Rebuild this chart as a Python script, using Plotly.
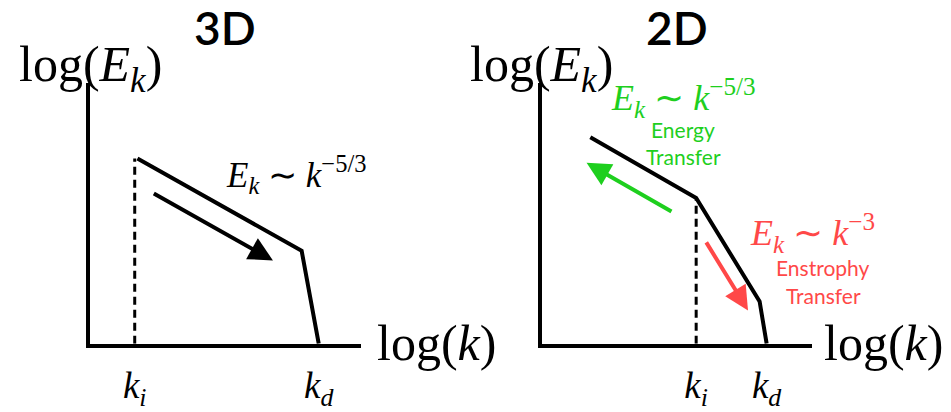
import plotly.graph_objects as go

# Schematic energy spectra, in arbitrary log(k) / log(E_k) units (0..10 on each axis)
panel_titles = ["3D", "2D"]

# 3D cascade: injection at k_i, inertial range, dissipation at k_d
k3_ticks = [1.65, 8.44]
k3_line_x = [1.75, 7.81, 8.44]
k3_line_y = [7.12, 3.57, 0.0]
k3_arrow = dict(tail=(2.3, 5.8), tip=(6.75, 3.2))

# 2D dual cascade: inverse energy cascade + forward enstrophy cascade
k2_ticks = [5.71, 8.32]
k2_line_x = [1.79, 5.71, 8.06, 8.32]
k2_line_y = [7.93, 5.60, 1.62, 0.0]
k2_energy_arrow = dict(tail=(4.85, 5.05), tip=(1.65, 6.95))
k2_enstrophy_arrow = dict(tail=(6.05, 3.95), tip=(7.63, 1.28))

tick_text = ["<i>k</i><sub><i>i</i></sub>", "<i>k</i><sub><i>d</i></sub>"]

GREEN = "#1ecf1e"
RED = "#ff4848"
SERIF = "Liberation Serif"
SANS = "Lato"

W, H = 951, 412


def px_x(p):
    return p / W


def px_y(p):
    return 1 - p / H


fig = go.Figure()

# left panel axes (x, y) and right panel axes (x2, y2)
axis_common = dict(range=[0, 10], showgrid=False, zeroline=False,
                   showline=True, linecolor="black", linewidth=4, mirror=False)
tick_font = dict(family=SERIF, size=37, color="black")
fig.update_layout(
    width=W, height=H, margin=dict(l=0, r=0, t=0, b=0),
    paper_bgcolor="white", plot_bgcolor="white", showlegend=False,
    xaxis=dict(domain=[px_x(90), px_x(361)], anchor="y", tickvals=k3_ticks,
               ticktext=tick_text, ticks="outside", ticklen=6,
               tickcolor="rgba(0,0,0,0)", tickfont=tick_font, **axis_common),
    yaxis=dict(domain=[px_y(354), px_y(86)], anchor="x", showticklabels=False,
               ticks="", **axis_common),
    xaxis2=dict(domain=[px_x(542), px_x(812)], anchor="y2", tickvals=k2_ticks,
                ticktext=tick_text, ticks="outside", ticklen=6,
                tickcolor="rgba(0,0,0,0)", tickfont=tick_font, **axis_common),
    yaxis2=dict(domain=[px_y(354), px_y(86)], anchor="x2", showticklabels=False,
                ticks="", **axis_common),
)

# spectra
fig.add_trace(go.Scatter(x=k3_line_x, y=k3_line_y, mode="lines",
                         line=dict(color="black", width=4), xaxis="x", yaxis="y"))
fig.add_trace(go.Scatter(x=k2_line_x, y=k2_line_y, mode="lines",
                         line=dict(color="black", width=4), xaxis="x2", yaxis="y2"))

# dashed injection-scale markers
fig.add_trace(go.Scatter(x=[k3_ticks[0], k3_ticks[0]], y=[0, k3_line_y[0]], mode="lines",
                         line=dict(color="black", width=3, dash="8px,5px"),
                         xaxis="x", yaxis="y"))
fig.add_trace(go.Scatter(x=[k2_ticks[0], k2_ticks[0]], y=[0, k2_line_y[1]], mode="lines",
                         line=dict(color="black", width=3, dash="8px,5px"),
                         xaxis="x2", yaxis="y2"))


def add_arrow(spec, color, xref, yref):
    fig.add_annotation(x=spec["tip"][0], y=spec["tip"][1],
                       ax=spec["tail"][0], ay=spec["tail"][1],
                       xref=xref, yref=yref, axref=xref, ayref=yref,
                       showarrow=True, arrowhead=2, arrowsize=1.2,
                       arrowwidth=4, arrowcolor=color, text="")


add_arrow(k3_arrow, "black", "x", "y")
add_arrow(k2_energy_arrow, GREEN, "x2", "y2")
add_arrow(k2_enstrophy_arrow, RED, "x2", "y2")


def label(text, cx, cy, size, color="black", family=SERIF, weight="normal"):
    fig.add_annotation(x=px_x(cx), y=px_y(cy), xref="paper", yref="paper",
                       text=text, showarrow=False, xanchor="center", yanchor="middle",
                       font=dict(family=family, size=size, color=color, weight=weight))


ylabel = "log(<i>E</i><sub><i>k</i></sub>)"
xlabel = "log(<i>k</i>)"

# panel titles
label(panel_titles[0], 225, 28, 46, family=SANS, weight=600)
label(panel_titles[1], 677, 28, 46, family=SANS, weight=600)

# axis titles
label(ylabel, 90, 70, 50)
label(ylabel, 541, 70, 50)
label(xlabel, 436, 353, 50)
label(xlabel, 883, 353, 50)

# scaling laws and cascade names
label("<i>E</i><sub><i>k</i></sub> ∼ <i>k</i><sup>−5/3</sup>", 296, 180, 35)
label("<i>E</i><sub><i>k</i></sub> ∼ <i>k</i><sup>−5/3</sup>", 683, 101, 36, color=GREEN)
label("Energy", 683, 133, 21, color=GREEN, family=SANS)
label("Transfer", 683, 161, 21, color=GREEN, family=SANS)
label("<i>E</i><sub><i>k</i></sub> ∼ <i>k</i><sup>−3</sup>", 812, 240, 36, color=RED)
label("Enstrophy", 823, 276, 21, color=RED, family=SANS)
label("Transfer", 823, 304, 21, color=RED, family=SANS)

fig.write_html("out.html")
